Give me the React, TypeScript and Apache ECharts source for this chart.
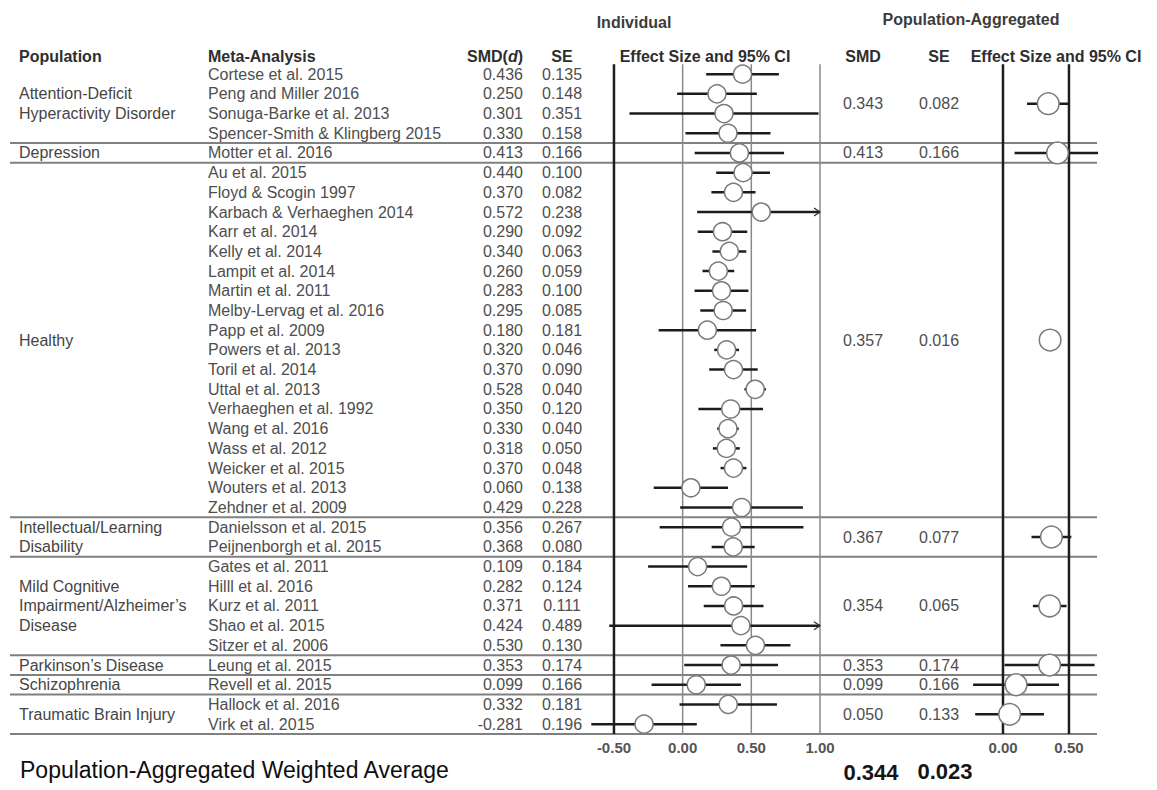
import React, { useEffect, useRef } from "react";
import * as echarts from "echarts";

// ---------------- data ----------------
const studies = [
  "Cortese et al. 2015",
  "Peng and Miller 2016",
  "Sonuga-Barke et al. 2013",
  "Spencer-Smith & Klingberg 2015",
  "Motter et al. 2016",
  "Au et al. 2015",
  "Floyd & Scogin 1997",
  "Karbach & Verhaeghen 2014",
  "Karr et al. 2014",
  "Kelly et al. 2014",
  "Lampit et al. 2014",
  "Martin et al. 2011",
  "Melby-Lervag et al. 2016",
  "Papp et al. 2009",
  "Powers et al. 2013",
  "Toril et al. 2014",
  "Uttal et al. 2013",
  "Verhaeghen et al. 1992",
  "Wang et al. 2016",
  "Wass et al. 2012",
  "Weicker et al. 2015",
  "Wouters et al. 2013",
  "Zehdner et al. 2009",
  "Danielsson et al. 2015",
  "Peijnenborgh et al. 2015",
  "Gates et al. 2011",
  "Hilll et al. 2016",
  "Kurz et al. 2011",
  "Shao et al. 2015",
  "Sitzer et al. 2006",
  "Leung et al. 2015",
  "Revell et al. 2015",
  "Hallock et al. 2016",
  "Virk et al. 2015",
];
const smd = [
  0.436, 0.25, 0.301, 0.33, 0.413, 0.44, 0.37, 0.572, 0.29, 0.34, 0.26, 0.283,
  0.295, 0.18, 0.32, 0.37, 0.528, 0.35, 0.33, 0.318, 0.37, 0.06, 0.429, 0.356,
  0.368, 0.109, 0.282, 0.371, 0.424, 0.53, 0.353, 0.099, 0.332, -0.281,
];
const se = [
  0.135, 0.148, 0.351, 0.158, 0.166, 0.1, 0.082, 0.238, 0.092, 0.063, 0.059, 0.1,
  0.085, 0.181, 0.046, 0.09, 0.04, 0.12, 0.04, 0.05, 0.048, 0.138, 0.228, 0.267,
  0.08, 0.184, 0.124, 0.111, 0.489, 0.13, 0.174, 0.166, 0.181, 0.196,
];
const populations = [
  "Attention-Deficit\nHyperactivity Disorder",
  "Depression",
  "Healthy",
  "Intellectual/Learning\nDisability",
  "Mild Cognitive\nImpairment/Alzheimer\u2019s\nDisease",
  "Parkinson\u2019s Disease",
  "Schizophrenia",
  "Traumatic Brain Injury",
];
const populationSizes = [4, 1, 18, 2, 5, 1, 1, 2];
const aggSmd = [0.343, 0.413, 0.357, 0.367, 0.354, 0.353, 0.099, 0.05];
const aggSe = [0.082, 0.166, 0.016, 0.077, 0.065, 0.174, 0.166, 0.133];
const overallSmd = 0.344;
const overallSe = 0.023;
const indivTicks = [-0.5, 0, 0.5, 1.0];
const aggTicks = [0, 0.5];

// ---------------- layout constants ----------------
const FONT = "'Liberation Sans', Arial, Helvetica, sans-serif";
const Z = 1.96;
const IND_MIN = -0.7;
const IND_MAX = 1.0;
const AGG_MIN = -0.3;
const AGG_MAX = 0.72;
const ROW_MIN = -0.5;
const ROW_MAX = studies.length - 0.5;
const GRID_TOP = 64.3;
const GRID_H = 669.7;
const ROW_H = GRID_H / studies.length;

const groupStart: number[] = [];
{
  let acc = 0;
  populationSizes.forEach((n) => {
    groupStart.push(acc);
    acc += n;
  });
}
const groupCenter = populationSizes.map((n, g) => groupStart[g] + (n - 1) / 2);
const groupEnd = populationSizes.map((n, g) => groupStart[g] + n - 0.5);

const txt = (
  x: number,
  y: number,
  text: string,
  align: string,
  size: number,
  fill: string,
  weight: string = "normal",
  extra: any = {}
) => ({
  type: "text",
  x,
  y,
  silent: true,
  style: {
    text,
    align,
    textAlign: align,
    verticalAlign: "middle",
    textVerticalAlign: "middle",
    fontSize: size,
    fontFamily: FONT,
    fontWeight: weight,
    fill,
    ...extra,
  },
});

export default function App() {
  const ref = useRef<HTMLDivElement>(null);
  useEffect(() => {
    document.body.style.margin = "0";
    document.body.style.background = "#ffffff";
    if (!ref.current) return;
    const chart = echarts.init(ref.current, undefined, { renderer: "svg" });

    const DATA_FILL = "#4e4e4e";
    const HEAD_FILL = "#2e2e2e";

    const option: any = {
      animation: false,
      backgroundColor: "#ffffff",
      grid: [
        { left: 0, top: GRID_TOP, width: 1157, height: GRID_H },
        { left: 586.5, top: GRID_TOP, width: 233.5, height: GRID_H },
        { left: 963.4, top: GRID_TOP, width: 134.6, height: GRID_H },
      ],
      xAxis: [
        { gridIndex: 0, type: "value", min: 0, max: 1157, show: false },
        {
          gridIndex: 1,
          type: "value",
          min: IND_MIN,
          max: IND_MAX,
          axisLine: { show: false },
          axisTick: { show: false },
          splitLine: { show: false },
          axisLabel: {
            customValues: indivTicks,
            formatter: (v: number) => v.toFixed(2),
            color: "#555555",
            fontWeight: "bold",
            fontSize: 15,
            fontFamily: FONT,
            margin: 6,
          },
        },
        {
          gridIndex: 2,
          type: "value",
          min: AGG_MIN,
          max: AGG_MAX,
          axisLine: { show: false },
          axisTick: { show: false },
          splitLine: { show: false },
          axisLabel: {
            customValues: aggTicks,
            formatter: (v: number) => v.toFixed(2),
            color: "#555555",
            fontWeight: "bold",
            fontSize: 15,
            fontFamily: FONT,
            margin: 6,
          },
        },
      ],
      yAxis: [0, 1, 2].map((g) => ({
        gridIndex: g,
        type: "value",
        min: ROW_MIN,
        max: ROW_MAX,
        inverse: true,
        show: false,
      })),
      graphic: [
        txt(634, 22, "Individual", "center", 16, "#3c3c3c", "bold"),
        txt(971, 19, "Population-Aggregated", "center", 16, "#3c3c3c", "bold"),
        txt(19, 56, "Population", "left", 16, HEAD_FILL, "bold"),
        txt(208, 56, "Meta-Analysis", "left", 16, HEAD_FILL, "bold"),
        txt(523, 56, "{a|SMD(}{b|d}{a|)}", "right", 16, HEAD_FILL, "bold", {
          rich: {
            a: { fontSize: 16, fontFamily: FONT, fontWeight: "bold", fill: HEAD_FILL },
            b: { fontSize: 16, fontFamily: FONT, fontWeight: "bold", fontStyle: "italic", fill: HEAD_FILL },
          },
        }),
        txt(562, 56, "SE", "center", 16, HEAD_FILL, "bold"),
        txt(705, 56, "Effect Size and 95% CI", "center", 16, HEAD_FILL, "bold"),
        txt(863, 56, "SMD", "center", 16, HEAD_FILL, "bold"),
        txt(939, 56, "SE", "center", 16, HEAD_FILL, "bold"),
        txt(1056, 56, "Effect Size and 95% CI", "center", 16, HEAD_FILL, "bold"),
        txt(20, 770, "Population-Aggregated Weighted Average", "left", 23, "#0e0e0e"),
        txt(871, 772, overallSmd.toFixed(3), "center", 22, "#151515", "bold"),
        txt(945, 771, overallSe.toFixed(3), "center", 22, "#151515", "bold"),
      ],
      series: [
        // horizontal separators between population groups
        {
          type: "custom",
          xAxisIndex: 0,
          yAxisIndex: 0,
          silent: true,
          z: 1,
          data: groupEnd.map((e) => [10, e]),
          renderItem: (params: any, api: any) => {
            const e = groupEnd[params.dataIndex];
            const a = api.coord([10, e]);
            const b = api.coord([1097, e]);
            return {
              type: "line",
              shape: { x1: a[0], y1: a[1], x2: b[0], y2: b[1] },
              style: { stroke: "#808080", lineWidth: 2 },
            };
          },
        },
        // study table texts
        {
          type: "custom",
          xAxisIndex: 0,
          yAxisIndex: 0,
          silent: true,
          z: 3,
          data: studies.map((_, i) => [208, i]),
          renderItem: (params: any, api: any) => {
            const i = params.dataIndex;
            const y = api.coord([0, i])[1];
            return {
              type: "group",
              children: [
                txt(api.coord([208, i])[0], y, studies[i], "left", 16, DATA_FILL),
                txt(api.coord([523, i])[0], y, smd[i].toFixed(3), "right", 16, DATA_FILL),
                txt(api.coord([562, i])[0], y, se[i].toFixed(3), "center", 16, DATA_FILL),
              ],
            };
          },
        },
        // population labels & aggregated values
        {
          type: "custom",
          xAxisIndex: 0,
          yAxisIndex: 0,
          silent: true,
          z: 3,
          data: populations.map((_, g) => [19, groupCenter[g]]),
          renderItem: (params: any, api: any) => {
            const g = params.dataIndex;
            const y = api.coord([0, groupCenter[g]])[1];
            return {
              type: "group",
              children: [
                txt(api.coord([19, 0])[0], y, populations[g], "left", 16, "#454545", "normal", {
                  lineHeight: ROW_H,
                }),
                txt(api.coord([863, 0])[0], y, aggSmd[g].toFixed(3), "center", 16, DATA_FILL),
                txt(api.coord([939, 0])[0], y, aggSe[g].toFixed(3), "center", 16, DATA_FILL),
              ],
            };
          },
        },
        // individual reference lines
        {
          type: "custom",
          xAxisIndex: 1,
          yAxisIndex: 1,
          silent: true,
          z: 2,
          data: indivTicks.map((v) => [v, ROW_MIN]),
          renderItem: (params: any, api: any) => {
            const v = indivTicks[params.dataIndex];
            const a = api.coord([v, ROW_MIN]);
            const b = api.coord([v, ROW_MAX]);
            const strong = v === -0.5;
            return {
              type: "line",
              shape: { x1: a[0], y1: a[1], x2: b[0], y2: b[1] },
              style: { stroke: strong ? "#1e1e1e" : "#8a8a8a", lineWidth: strong ? 2.5 : 1.5 },
            };
          },
        },
        // aggregated reference lines
        {
          type: "custom",
          xAxisIndex: 2,
          yAxisIndex: 2,
          silent: true,
          z: 2,
          data: aggTicks.map((v) => [v, ROW_MIN]),
          renderItem: (params: any, api: any) => {
            const v = aggTicks[params.dataIndex];
            const a = api.coord([v, ROW_MIN]);
            const b = api.coord([v, ROW_MAX]);
            return {
              type: "line",
              shape: { x1: a[0], y1: a[1], x2: b[0], y2: b[1] },
              style: { stroke: "#1e1e1e", lineWidth: 2.5 },
            };
          },
        },
        // individual effect sizes with 95% CI
        {
          type: "custom",
          xAxisIndex: 1,
          yAxisIndex: 1,
          silent: true,
          z: 5,
          data: smd.map((m, i) => [m, i]),
          renderItem: (params: any, api: any) => {
            const i = params.dataIndex;
            const m = smd[i];
            const lo = m - Z * se[i];
            const hi = m + Z * se[i];
            const a = api.coord([Math.max(lo, IND_MIN), i]);
            const b = api.coord([Math.min(hi, IND_MAX), i]);
            const c = api.coord([m, i]);
            const children: any[] = [
              {
                type: "line",
                shape: { x1: a[0], y1: a[1], x2: b[0], y2: b[1] },
                style: { stroke: "#1c1c1c", lineWidth: 2.5 },
              },
            ];
            if (hi > IND_MAX) {
              children.push({
                type: "polyline",
                shape: { points: [[b[0] - 6, b[1] - 4], [b[0], b[1]], [b[0] - 6, b[1] + 4]] },
                style: { stroke: "#333333", lineWidth: 1.3, fill: "none" },
              });
            }
            children.push({
              type: "circle",
              shape: { cx: c[0], cy: c[1], r: 9 },
              style: { fill: "#ffffff", stroke: "#7a7a7a", lineWidth: 1.5 },
            });
            return { type: "group", children };
          },
        },
        // aggregated effect sizes with 95% CI
        {
          type: "custom",
          xAxisIndex: 2,
          yAxisIndex: 2,
          silent: true,
          z: 5,
          data: aggSmd.map((m, g) => [m, groupCenter[g]]),
          renderItem: (params: any, api: any) => {
            const g = params.dataIndex;
            const m = aggSmd[g];
            const row = groupCenter[g];
            const lo = m - Z * aggSe[g];
            const hi = m + Z * aggSe[g];
            const a = api.coord([Math.max(lo, AGG_MIN), row]);
            const b = api.coord([Math.min(hi, AGG_MAX), row]);
            const c = api.coord([m, row]);
            return {
              type: "group",
              children: [
                {
                  type: "line",
                  shape: { x1: a[0], y1: a[1], x2: b[0], y2: b[1] },
                  style: { stroke: "#1c1c1c", lineWidth: 2.5 },
                },
                {
                  type: "circle",
                  shape: { cx: c[0], cy: c[1], r: 10.8 },
                  style: { fill: "#ffffff", stroke: "#7a7a7a", lineWidth: 1.5 },
                },
              ],
            };
          },
        },
      ],
    };

    chart.setOption(option);
    return () => chart.dispose();
  }, []);

  return <div ref={ref} style={{ width: 1157, height: 790, background: "#ffffff" }} />;
}
